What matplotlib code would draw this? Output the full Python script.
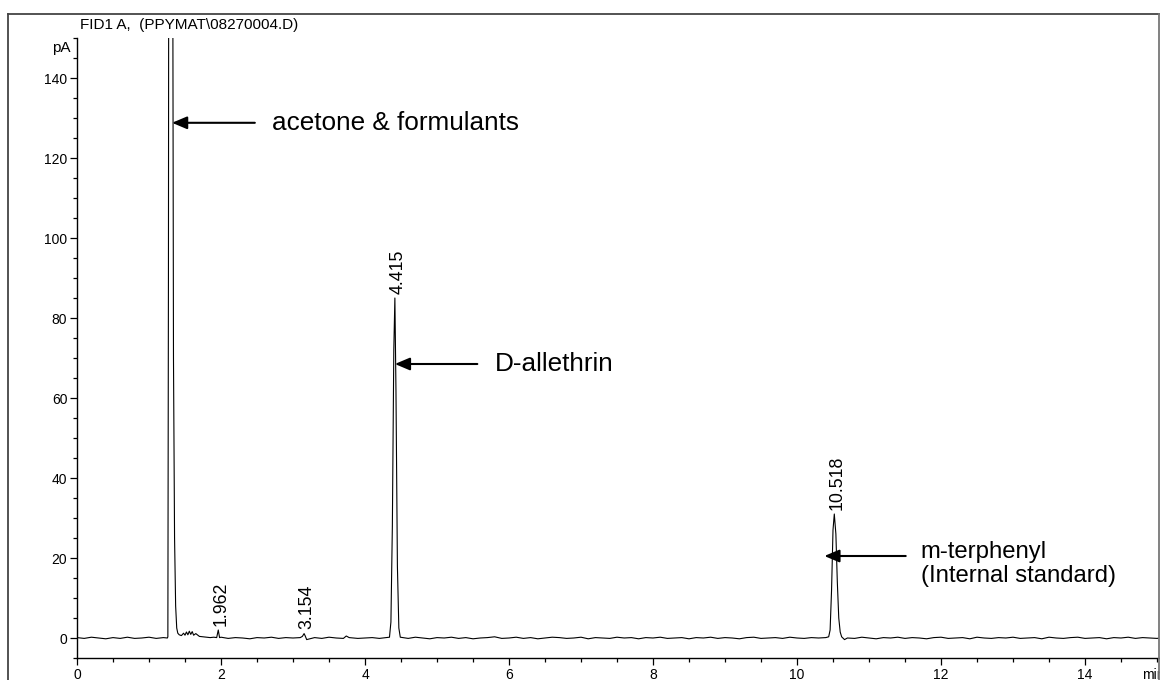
import matplotlib
matplotlib.use("Agg")
import matplotlib.pyplot as plt
from matplotlib.lines import Line2D
from matplotlib.ticker import MultipleLocator

plt.rcParams['font.family'] = ['Liberation Sans', 'DejaVu Sans']

''' Chromatogram trace (retention time in min, signal in pA), read off the picture '''
time = [0.00, 0.10, 0.20, 0.30, 0.40, 0.50, 0.60, 0.70, 0.80, 0.90, 1.00, 1.10, 1.20, 1.255,
        1.262, 1.270, 1.280, 1.290, 1.300, 1.310, 1.320, 1.330, 1.340, 1.355, 1.370, 1.385, 1.400, 1.420,
        1.45, 1.48, 1.50, 1.52, 1.54, 1.56, 1.58, 1.60, 1.62, 1.65, 1.70, 1.75, 1.80, 1.85, 1.90, 1.94,
        1.962, 1.98, 2.00, 2.10, 2.20, 2.30, 2.40, 2.50, 2.60, 2.70, 2.80, 2.90, 3.00, 3.10, 3.13,
        3.154, 3.17, 3.19, 3.30, 3.40, 3.50, 3.60, 3.70, 3.74, 3.78, 3.90, 4.00, 4.10, 4.20, 4.30,
        4.34, 4.36, 4.38, 4.40, 4.415, 4.43, 4.45, 4.47, 4.49,
        4.60, 4.70, 4.80, 4.90, 5.00, 5.10, 5.20, 5.30, 5.40, 5.50, 5.60, 5.70, 5.80, 5.90,
        6.00, 6.10, 6.20, 6.30, 6.40, 6.50, 6.60, 6.70, 6.80, 6.90, 7.00, 7.10, 7.20, 7.30,
        7.40, 7.50, 7.60, 7.70, 7.80, 7.90, 8.00, 8.10, 8.20, 8.30, 8.40, 8.50, 8.60, 8.70,
        8.80, 8.90, 9.00, 9.10, 9.20, 9.30, 9.40, 9.50, 9.60, 9.70, 9.80, 9.90, 10.00, 10.10,
        10.20, 10.30, 10.40, 10.44, 10.46, 10.48, 10.50, 10.518, 10.54, 10.56, 10.58, 10.60, 10.62,
        10.66, 10.70, 10.80, 10.90, 11.00, 11.10, 11.20, 11.30, 11.40, 11.50, 11.60, 11.70, 11.80,
        11.90, 12.00, 12.10, 12.20, 12.30, 12.40, 12.50, 12.60, 12.70, 12.80, 12.90, 13.00,
        13.10, 13.20, 13.30, 13.40, 13.50, 13.60, 13.70, 13.80, 13.90, 14.00, 14.10, 14.20,
        14.30, 14.40, 14.50, 14.60, 14.70, 14.80, 14.90, 15.00, 15.10]
signal = [0.1, -0.1, 0.2, 0.0, -0.2, 0.1, -0.1, 0.2, -0.1, 0.0, 0.2, -0.1, 0.1, 0.0,
          0.3, 90.0, 320.0, 700.0, 1000.0, 700.0, 420.0, 170.0, 70.0, 25.0, 8.0, 2.5, 1.2, 0.8,
          0.6, 1.2, 0.7, 1.5, 0.8, 1.7, 0.9, 1.6, 0.7, 1.1, 0.4, 0.3, 0.2, 0.1, 0.2, 0.1,
          2.0, 0.1, 0.2, -0.1, 0.1, 0.0, -0.2, 0.1, 0.0, 0.2, -0.1, 0.1, 0.0, 0.1, 0.4,
          1.1, 0.5, -0.4, 0.1, -0.1, 0.2, 0.0, -0.1, 0.5, 0.1, -0.1, 0.0, 0.1, -0.1, 0.1,
          0.2, 4.0, 28.0, 72.0, 85.0, 62.0, 18.0, 2.5, 0.2,
          -0.1, 0.2, 0.0, -0.2, 0.1, 0.0, 0.2, -0.1, 0.1, -0.2, 0.0, 0.1, 0.3, -0.1,
          0.0, 0.2, -0.1, 0.1, -0.2, 0.0, 0.2, 0.1, -0.1, 0.0, 0.2, -0.2, 0.1, 0.0,
          -0.1, 0.2, 0.0, 0.1, -0.2, 0.1, 0.0, 0.2, -0.1, 0.0, 0.1, -0.2, 0.1, 0.0,
          0.2, -0.1, 0.1, 0.0, -0.2, 0.1, 0.2, -0.1, 0.0, 0.1, -0.1, 0.2, 0.0, -0.1,
          0.1, 0.0, 0.1, 0.3, 2.0, 12.0, 27.0, 31.0, 26.0, 14.0, 5.0, 1.5, 0.3,
          -0.4, 0.0, -0.1, 0.2, 0.0, -0.2, 0.1, 0.0, 0.2, -0.1, 0.1, 0.0, -0.2,
          0.1, 0.2, -0.1, 0.0, 0.1, -0.2, 0.2, 0.0, -0.1, 0.1, 0.0, 0.2,
          -0.1, 0.0, 0.1, -0.2, 0.2, 0.0, -0.1, 0.1, 0.2, -0.1, 0.0, 0.1,
          -0.2, 0.1, 0.0, 0.2, -0.1, 0.1, 0.0, -0.1, 0.1]

# integrated peaks (retention time labels)
peak_times = [1.962, 3.154, 4.415, 10.518]
peak_heights = [2.0, 1.1, 85.0, 31.0]

# compound annotations: text, arrow tip (min, pA), arrow tail x, text x, font size
notes = ["acetone & formulants", "D-allethrin", "m-terphenyl\n(Internal standard)"]
note_tip = [(1.32, 128.8), (4.415, 68.5), (10.38, 20.5)]
note_tail_x = [2.47, 5.56, 11.51]
note_text_x = [2.71, 5.81, 11.72]
note_size = [18.8, 18.8, 17.2]

''' Figure '''
fig = plt.figure(figsize=(11.6, 6.8), dpi=100)
ax = fig.add_axes([77 / 1160, 22 / 680, 1082 / 1160, 620 / 680])

ax.plot(time, signal, color="black", lw=0.8)

ax.set_xlim(0, 1082 / 72)
ax.set_ylim(-5, 150)

for s in ["top", "right"]:
    ax.spines[s].set_visible(False)
ax.spines["left"].set_linewidth(1.0)
ax.spines["bottom"].set_linewidth(1.0)

ax.xaxis.set_major_locator(MultipleLocator(2))
ax.xaxis.set_minor_locator(MultipleLocator(0.5))
ax.yaxis.set_major_locator(MultipleLocator(20))
ax.yaxis.set_minor_locator(MultipleLocator(5))
ax.set_yticks(range(0, 141, 20))
ax.tick_params(axis="both", which="major", length=5, width=0.9, labelsize=10, pad=2)
ax.tick_params(axis="both", which="minor", length=3, width=0.9)

# unit labels
ax.annotate("pA", xy=(0, 147.5), xycoords=("axes fraction", "data"), xytext=(-5, 0),
            textcoords="offset points", ha="right", va="center", fontsize=11)
ax.annotate("min", xy=(14.79, -5), xycoords="data", xytext=(0, -7),
            textcoords="offset points", ha="left", va="top", fontsize=10, annotation_clip=False)

# retention time labels
for pt, ph in zip(peak_times, peak_heights):
    ax.annotate(f"{pt:.3f}", xy=(pt, ph), xytext=(2, 3), textcoords="offset points",
                rotation=90, ha="center", va="bottom", fontsize=12.8)

# compound arrows
for txt, tip, tx, lx, fs in zip(notes, note_tip, note_tail_x, note_text_x, note_size):
    ax.annotate("", xy=tip, xytext=(tx, tip[1]),
                arrowprops=dict(arrowstyle="-|>,head_length=0.9,head_width=0.38",
                                mutation_scale=10, color="black", lw=1.5,
                                shrinkA=0, shrinkB=0))
    if "\n" in txt:
        ax.text(lx, tip[1] + 3.8, txt, ha="left", va="top", fontsize=fs, linespacing=1.12)
    else:
        ax.text(lx, tip[1], txt, ha="left", va="center", fontsize=fs)

fig.text(80 / 1160, 1 - 25 / 680, "FID1 A,  (PPYMAT\\08270004.D)", fontsize=11,
         ha="left", va="center")

# outer frame
fx0, fy0, fx1 = 8 / 1160, 1 - 14 / 680, 1159 / 1160
fig.add_artist(Line2D([fx0, fx1], [fy0, fy0], transform=fig.transFigure, color="#444444", lw=1.3))
fig.add_artist(Line2D([fx0, fx0], [0, fy0], transform=fig.transFigure, color="#444444", lw=1.3))
fig.add_artist(Line2D([fx1, fx1], [0, fy0], transform=fig.transFigure, color="#777777", lw=1.3))

fig.savefig("out.png", dpi=100)
